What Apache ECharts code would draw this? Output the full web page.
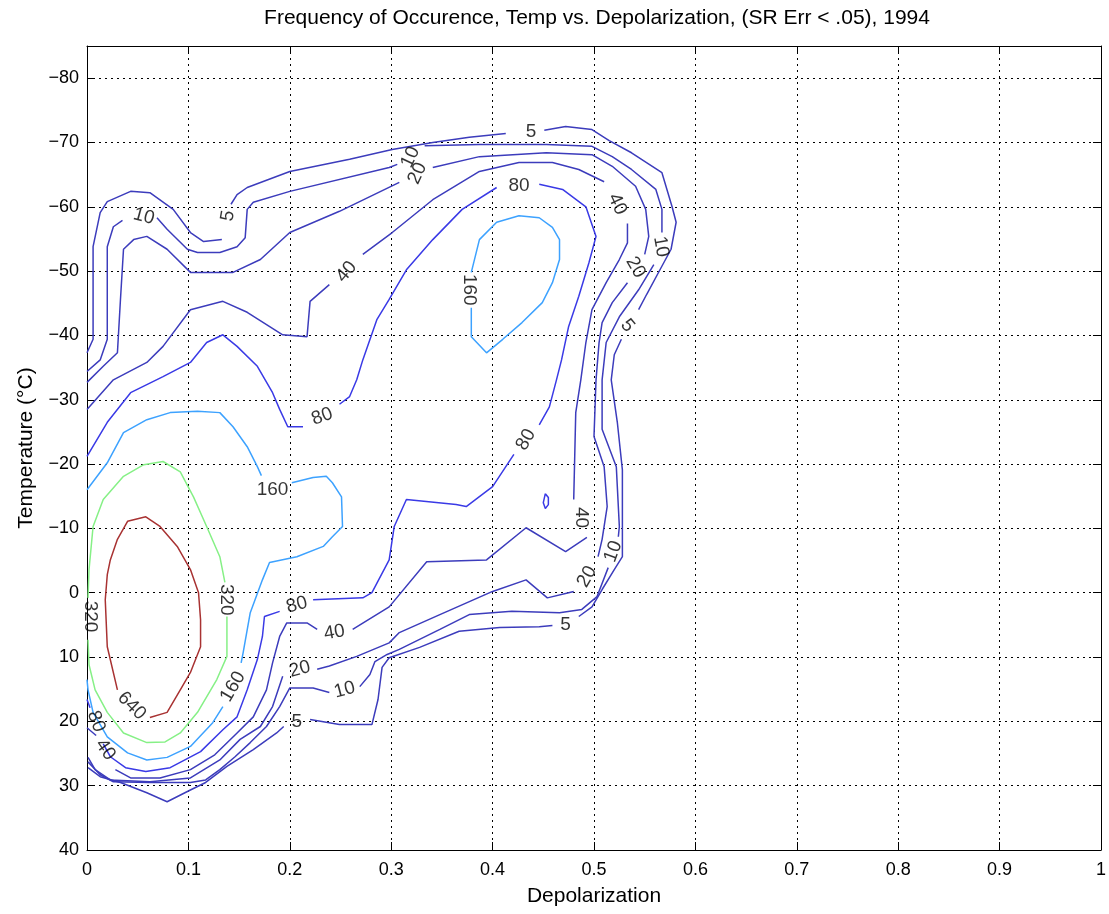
<!DOCTYPE html>
<html><head><meta charset="utf-8">
<script src="https://cdn.jsdelivr.net/npm/echarts@6/dist/echarts.min.js"></script>
<style>html,body{margin:0;padding:0;background:#fff}#c{width:1109px;height:914px}</style>
</head><body><div id="c"></div>
<script>
const titleText = 'Frequency of Occurence, Temp vs. Depolarization, (SR Err < .05), 1994';
const xName = 'Depolarization';
const yName = 'Temperature (\u00B0C)';
const xTickValues = [0, 0.1, 0.2, 0.3, 0.4, 0.5, 0.6, 0.7, 0.8, 0.9, 1];
const yTickValues = [-80, -70, -60, -50, -40, -30, -20, -10, 0, 10, 20, 30, 40];
const contourLevels = [5, 10, 20, 40, 80, 160, 320, 640];

const level5 = [
  [[0,-37.3],[0.006,-39.4],[0.006,-53.8],[0.013,-59.1],[0.020,-60.8],[0.043,-62.4],[0.062,-62.2],[0.085,-59.6],[0.102,-56.0],[0.115,-54.6],[0.133,-54.9]],
  [[0.142,-60.4],[0.148,-61.9],[0.158,-63.0],[0.200,-65.5],[0.259,-67.4],[0.301,-68.9],[0.341,-70.0],[0.377,-70.8],[0.413,-71.4]],
  [[0.451,-71.9],[0.472,-72.5],[0.498,-72.0],[0.515,-70.3],[0.537,-68.4],[0.567,-65.3],[0.577,-60.0],[0.581,-57.6],[0.576,-53.4],[0.564,-49.9],[0.552,-46.4],[0.544,-44.0]],
  [[0.527,-39.4],[0.520,-37.0],[0.517,-33.1],[0.523,-26.5],[0.528,-19.1],[0.528,-5.6],[0.520,-3.6],[0.508,-0.5],[0.498,2.2],[0.485,3.7]],
  [[0.459,5.1],[0.446,5.3],[0.407,5.4],[0.367,6.0],[0.328,8.5],[0.298,10.1],[0.291,11.6],[0.287,16.6],[0.281,20.5],[0.249,20.5],[0.220,19.7]],
  [[0.194,20.8],[0.187,21.8],[0.164,24.4],[0.138,27.0],[0.117,29.5],[0.099,30.9],[0.079,32.5],[0.059,31.1],[0.033,29.5],[0.013,28.6],[0.001,27.2]]
];
const level10 = [
  [[0,-34.4],[0.013,-36.2],[0.020,-39.4],[0.020,-53.8],[0.026,-56.9],[0.035,-57.9]],
  [[0.069,-58.3],[0.079,-56.5],[0.099,-53.4],[0.109,-52.9],[0.131,-52.9],[0.148,-53.8],[0.156,-55.2],[0.158,-59.6],[0.164,-60.7],[0.200,-62.4],[0.298,-66.1],[0.306,-66.6]],
  [[0.333,-69.5],[0.387,-69.7],[0.453,-69.7],[0.498,-69.4],[0.518,-67.8],[0.537,-65.8],[0.561,-62.7],[0.567,-59.6],[0.567,-56.0]],
  [[0.559,-51.0],[0.544,-47.1],[0.525,-42.9],[0.512,-38.9],[0.508,-33.1],[0.508,-25.4],[0.522,-19.6],[0.525,-10.3],[0.524,-8.7]],
  [[0.514,-3.9],[0.503,0.6],[0.488,2.6],[0.466,3.1],[0.419,2.9],[0.377,3.4],[0.348,5.7],[0.308,8.8],[0.296,9.6],[0.284,10.7],[0.279,12.7],[0.269,14.6]],
  [[0.239,15.5],[0.223,14.8],[0.200,14.8],[0.190,17.7],[0.177,20.8],[0.161,23.3],[0.146,25.5],[0.131,27.5],[0.117,29.1],[0.102,29.5],[0.062,29.5],[0.026,29.4],[0.013,28.3],[0.001,26.3]]
];
const level20 = [
  [[0,-32.7],[0.016,-35.2],[0.030,-37.3],[0.033,-45.6],[0.036,-53.4],[0.046,-54.9],[0.059,-55.4],[0.079,-53.4],[0.102,-49.8],[0.144,-49.8],[0.171,-51.8],[0.200,-56.0],[0.249,-59.3],[0.308,-63.8]],
  [[0.341,-66.1],[0.387,-67.8],[0.453,-68.4],[0.498,-68.1],[0.518,-66.3],[0.541,-63.2],[0.551,-59.6],[0.554,-55.4],[0.550,-52.6]],
  [[0.533,-48.2],[0.518,-45.1],[0.508,-42.0],[0.505,-38.9],[0.502,-33.1],[0.500,-24.3],[0.510,-19.6],[0.513,-13.4],[0.508,-8.3],[0.504,-5.6]],
  [[0.480,-0.2],[0.475,0],[0.454,0.8],[0.433,-2.0],[0.400,-0.2],[0.348,3.4],[0.308,6.2],[0.298,7.8],[0.266,9.9],[0.239,11.4],[0.227,11.9]],
  [[0.193,13.0],[0.183,17.7],[0.171,20.8],[0.151,22.8],[0.131,26.0],[0.102,28.8],[0.062,29.4],[0.023,29.1],[0.008,27.5],[0.001,25.6]]
];
const level40 = [
  [[0,-28.5],[0.026,-33.1],[0.059,-35.8],[0.075,-38.3],[0.102,-44.0],[0.134,-45.3],[0.158,-43.6],[0.193,-40.1],[0.217,-39.8],[0.220,-45.3],[0.239,-47.9]],
  [[0.272,-52.6],[0.301,-56.0],[0.341,-61.1],[0.387,-65.5],[0.426,-66.9],[0.459,-66.9],[0.485,-65.8],[0.510,-63.9]],
  [[0.533,-57.4],[0.533,-54.4],[0.525,-51.8],[0.512,-48.2],[0.498,-44.0],[0.492,-38.9],[0.487,-33.1],[0.482,-28.0],[0.480,-14.5]],
  [[0.493,-8.6],[0.472,-6.4],[0.433,-10.1],[0.394,-5.1],[0.335,-4.8],[0.298,2.2],[0.262,5.7]],
  [[0.227,5.7],[0.217,4.7],[0.197,4.7],[0.190,6.8],[0.183,10.9],[0.177,15.1],[0.164,19.3],[0.148,21.8],[0.126,25.2],[0.102,27.5],[0.072,28.8],[0.043,28.8],[0.028,27.5]],
  [[0.009,22.2],[0,21.0]]
];
const level80 = [
  [[0,-21.2],[0.020,-26.5],[0.043,-31.1],[0.075,-33.6],[0.102,-35.8],[0.118,-38.9],[0.134,-40.1],[0.148,-38.3],[0.168,-35.2],[0.183,-31.1],[0.190,-28.5],[0.198,-25.8],[0.213,-25.8]],
  [[0.249,-29.3],[0.259,-30.5],[0.266,-33.1],[0.272,-36.2],[0.286,-42.5],[0.298,-45.6],[0.315,-50.2],[0.341,-54.9],[0.370,-59.6],[0.404,-63.0]],
  [[0.446,-63.5],[0.469,-62.7],[0.492,-60.0],[0.502,-55.4],[0.495,-51.3],[0.485,-46.1],[0.475,-41.4],[0.468,-36.2],[0.463,-33.1],[0.456,-28.9],[0.446,-26.1]],
  [[0.421,-21.5],[0.400,-16.5],[0.374,-13.4],[0.364,-13.7],[0.315,-14.5],[0.303,-10.3],[0.298,-5.1],[0.281,0],[0.272,0.8],[0.223,1.1]],
  [[0.190,2.9],[0.175,3.7],[0.173,6.8],[0.168,10.4],[0.158,15.1],[0.148,19.3],[0.134,21.3],[0.112,24.7],[0.082,27.2],[0.058,27.8],[0.038,27.2],[0.023,25.5],[0.016,23.5]],
  [[0.003,17.9],[0,16.6]],
  [[0.452,-15.4],[0.455,-14.8],[0.455,-13.7],[0.452,-13.1],[0.450,-14.0],[0.452,-15.4]]
];
const level160 = [
  [[0,-16.0],[0.020,-20.2],[0.036,-24.9],[0.059,-26.9],[0.082,-28.0],[0.109,-28.2],[0.131,-28.0],[0.144,-25.8],[0.158,-22.7],[0.168,-19.6],[0.172,-18.2]],
  [[0.202,-17.1],[0.223,-17.9],[0.236,-18.1],[0.242,-17.1],[0.251,-14.9],[0.252,-10.3],[0.242,-8.7],[0.233,-7.2],[0.207,-5.6],[0.180,-4.7],[0.173,-2.0],[0.161,3.1],[0.154,9.3],[0.152,10.9]],
  [[0.134,17.7],[0.124,20.2],[0.102,23.9],[0.079,25.6],[0.059,26.0],[0.040,24.9],[0.020,22.4],[0.006,18.6],[0.001,15.1],[0,13.5]],
  [[0.379,-49.8],[0.387,-54.9],[0.404,-57.6],[0.426,-58.6],[0.446,-58.3],[0.459,-56.8],[0.466,-54.9],[0.466,-51.8],[0.459,-48.2],[0.449,-45.1],[0.429,-42.0],[0.410,-39.4],[0.394,-37.3],[0.379,-39.8],[0.379,-44.3]]
];
const level320 = [
  [[0.001,0.8],[0.002,-3.6],[0.006,-10.3],[0.016,-14.5],[0.036,-18.1],[0.056,-19.9],[0.075,-20.4],[0.092,-18.8],[0.105,-14.9],[0.118,-10.3],[0.131,-5.6],[0.136,-1.6]],
  [[0.138,3.7],[0.138,9.9],[0.128,13.5],[0.109,18.6],[0.092,21.8],[0.077,23.2],[0.059,23.3],[0.036,21.8],[0.020,18.6],[0.008,15.1],[0.002,11.2],[0.001,7.3]]
];
const level640 = [
  [[0.062,19.4],[0.079,18.6],[0.092,15.1],[0.102,12.4],[0.112,8.4],[0.112,4.2],[0.110,0],[0.102,-3.6],[0.089,-7.2],[0.072,-10.3],[0.058,-11.8],[0.040,-11.1],[0.030,-8.3],[0.023,-5.1],[0.020,-2.8],[0.018,1.1],[0.020,8.4],[0.030,15.1]]
];
const contourSets = [level5, level10, level20, level40, level80, level160, level320, level640];

const labelPoints = [
  [0.139,-58.6,'5'],[0.056,-58.5,'10'],[0.438,-71.6,'5'],[0.319,-67.7,'10'],[0.326,-65.2,'20'],
  [0.426,-63.2,'80'],[0.523,-60.4,'40'],[0.566,-53.8,'10'],[0.541,-50.6,'20'],[0.533,-41.5,'5'],
  [0.256,-49.9,'40'],[0.377,-47.1,'160'],[0.232,-27.4,'80'],[0.183,-16.0,'160'],[0.433,-23.8,'80'],
  [0.487,-11.7,'40'],[0.493,-2.5,'20'],[0.519,-6.4,'10'],[0.472,5.0,'5'],[0.137,1.1,'320'],
  [0.003,3.7,'320'],[0.207,1.9,'80'],[0.244,6.2,'40'],[0.210,11.9,'20'],[0.254,15.1,'10'],
  [0.207,20.0,'5'],[0.144,14.6,'160'],[0.044,17.6,'640'],[0.009,20.0,'80'],[0.018,24.4,'40']
];
const labelAngles = [80,-15,0,65,65, 0,-65,-80,-60,-50, 50,-90,20,0,60, -90,60,70,0,-90, -90,15,10,15,15, 0,60,-45,-70,-55];

const levelColors = ['#3c3cbc','#3c3cbc','#3c3cbc','#3c3cbc','#3a3ae6','#3da2ff','#86f086','#a83232'];
const FONT = "'Liberation Sans', Arial, Helvetica, sans-serif";

const series = [];
contourSets.forEach((segs, li) => {
  segs.forEach(seg => {
    series.push({
      type: 'line', data: seg, showSymbol: false, symbol: 'none', silent: true,
      lineStyle: { color: levelColors[li], width: 1.5 }, animation: false, z: 3
    });
  });
});
series.push({
  type: 'scatter', symbolSize: 0, silent: true, animation: false, z: 5,
  data: labelPoints.map((p, i) => ({
    value: [p[0], p[1]],
    label: { show: true, position: 'inside', formatter: p[2], rotate: labelAngles[i],
      color: '#000', fontSize: 19, fontFamily: FONT }
  }))
});

const chart = echarts.init(document.getElementById('c'), null, { renderer: 'canvas' });
const axisLineStyle = { show: true, onZero: false, lineStyle: { color: '#000', width: 1 } };
const gridLine = { show: true, lineStyle: { color: '#000', type: [2, 4], width: 1 } };
chart.setOption({
  backgroundColor: '#fff',
  animation: false,
  graphic: [{
    type: 'text', x: 597, y: 18,
    style: { text: titleText, fill: '#000', font: '21px ' + FONT, textAlign: 'center', textVerticalAlign: 'middle' }
  }],
  grid: { left: 87, right: 4, top: 46, bottom: 64, containLabel: false },
  xAxis: [{
    type: 'value', min: 0, max: 1, interval: 0.1, position: 'bottom',
    name: xName, nameLocation: 'middle', nameGap: 36,
    nameTextStyle: { color: '#000', fontSize: 21, fontFamily: FONT },
    axisLine: axisLineStyle,
    axisTick: { show: true, inside: true, length: 8, lineStyle: { color: '#000' } },
    axisLabel: { color: '#000', fontSize: 18, fontFamily: FONT, margin: 11,
      formatter: v => (v === 0 ? '0' : v === 1 ? '1' : v.toFixed(1)) },
    splitLine: gridLine
  }, {
    type: 'value', min: 0, max: 1, interval: 0.1, position: 'top',
    axisLine: axisLineStyle,
    axisTick: { show: true, inside: true, length: 8, lineStyle: { color: '#000' } },
    axisLabel: { show: false }, splitLine: { show: false }
  }],
  yAxis: [{
    type: 'value', min: -85, max: 40, inverse: true, position: 'left',
    name: yName, nameLocation: 'middle', nameGap: 50, nameRotate: 90,
    nameTextStyle: { color: '#000', fontSize: 21, fontFamily: FONT },
    axisLine: axisLineStyle,
    axisTick: { show: true, inside: true, length: 8, customValues: yTickValues, lineStyle: { color: '#000' } },
    axisLabel: { color: '#000', fontSize: 18, fontFamily: FONT, margin: 8, customValues: yTickValues,
      formatter: v => String(v).replace('-', '\u2212') },
    splitLine: gridLine
  }, {
    type: 'value', min: -85, max: 40, inverse: true, position: 'right',
    axisLine: axisLineStyle,
    axisTick: { show: true, inside: true, length: 8, customValues: yTickValues, lineStyle: { color: '#000' } },
    axisLabel: { show: false, customValues: yTickValues }, splitLine: { show: false }
  }],
  series: series
});
</script></body></html>
